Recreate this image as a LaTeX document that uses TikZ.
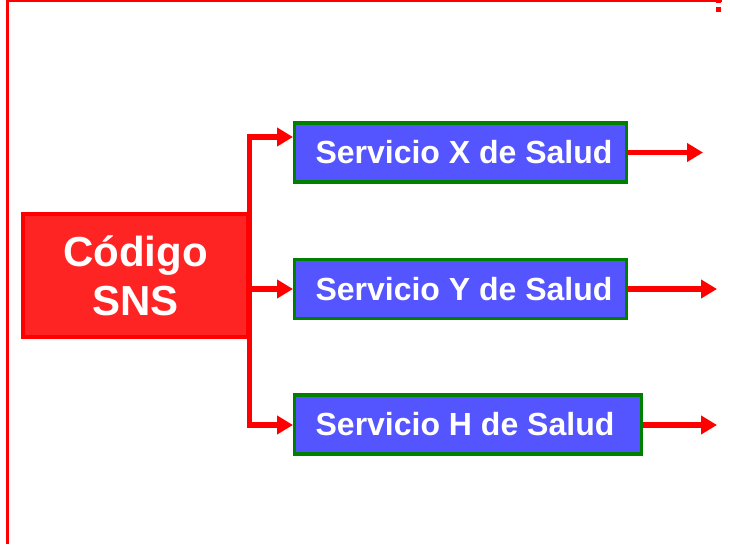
\documentclass[tikz,border=0pt]{standalone}
\usepackage{fontspec}
\setmainfont{Liberation Sans}
\usetikzlibrary{arrows.meta}
\definecolor{frameRed}{HTML}{FF0000}
\definecolor{codeFill}{HTML}{FF2424}
\definecolor{svcFill}{HTML}{5555FF}
\definecolor{svcEdge}{HTML}{008000}
\tikzset{
  codebox/.style={draw=frameRed, fill=codeFill, line width=4pt, inner sep=0pt,
    minimum width=225pt, minimum height=123pt, text=white, align=center,
    font=\bfseries\fontsize{42}{49}\selectfont},
  svcbox/.style={draw=svcEdge, fill=svcFill, line width=3.3pt, inner sep=0pt,
    minimum width=331.7pt, minimum height=59pt, text=white,
    font=\bfseries\fontsize{32}{38}\selectfont},
  link/.style={draw=frameRed, line width=5.5pt},
  flow/.style={link, -{Triangle[length=16pt 0 0,width=18pt 0 0]}},
}
\begin{document}
\begin{tikzpicture}[x=1pt,y=-1pt]
  \useasboundingbox (0,0) rectangle (730,544);
  % page frame
  \fill[frameRed] (6,0) rectangle (8.5,544);
  \fill[frameRed] (6,0) rectangle (722,2);
  \fill[frameRed] (716,7) rectangle (721,12);
  \fill[frameRed] (716,0) rectangle (721,2.5);

  % source box
  \node[codebox] (code) at (135.5,275.5) {Código\\SNS};

  % service boxes
  \node[svcbox] (s1) at (460.5,152.5) {\hspace*{7pt}Servicio X de Salud};
  \node[svcbox, minimum height=58.7pt] (s2) at (460.5,289) {\hspace*{7pt}Servicio Y de Salud};
  \node[svcbox, minimum width=346.7pt] (s3) at (468,424.5) {Servicio H de Salud\hspace*{6pt}};

  % branching trunk
  \coordinate (t1) at (249.5,137);
  \coordinate (t2) at (249.5,289);
  \coordinate (t3) at (249.5,425);
  \draw[link, line cap=rect] (t1) -- (t3);
  \draw[flow] (t1) -- (t1 -| s1.west);
  \draw[flow] (t2) -- (t2 -| s2.west);
  \draw[flow] (t3) -- (t3 -| s3.west);

  % outgoing arrows
  \coordinate (o1) at (703,152.5);
  \coordinate (o2) at (717,289);
  \coordinate (o3) at (717,425);
  \draw[flow] (s1.east |- o1) -- (o1);
  \draw[flow] (s2.east |- o2) -- (o2);
  \draw[flow] (s3.east |- o3) -- (o3);
\end{tikzpicture}
\end{document}
